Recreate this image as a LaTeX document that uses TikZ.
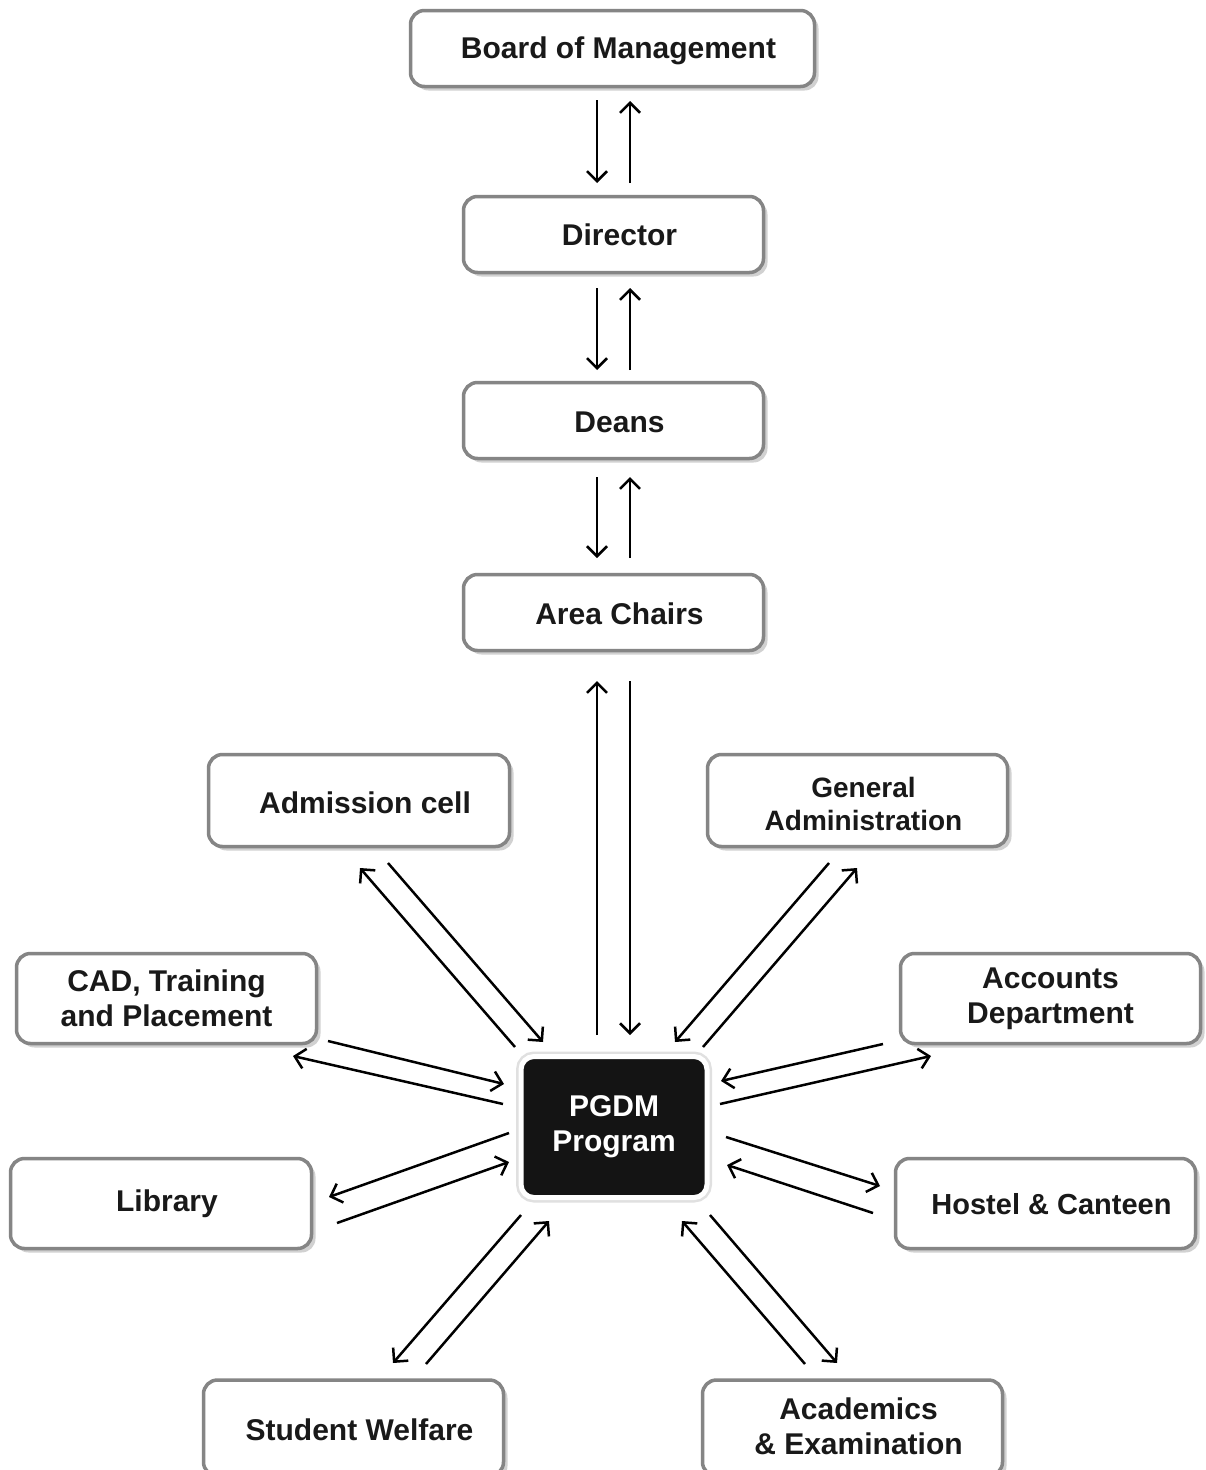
\documentclass[tikz,border=0pt]{standalone}
\usepackage{fontspec}
\setmainfont{Liberation Sans}
\usetikzlibrary{arrows.meta,shadows}
\newcommand{\stx}[2][4pt]{\hspace*{12pt}\raisebox{-#1}[\height][\depth]{\begin{tabular}{@{}c@{}}#2\end{tabular}}}
\begin{document}
\begin{tikzpicture}[x=1pt,y=-1pt,
  box/.style={draw=black!48, line width=3.5pt, fill=white, rounded corners=14pt,
    align=center, font=\fontsize{30}{35}\selectfont\bfseries, text=black!90,
    inner sep=0pt,
    drop shadow={shadow xshift=4pt, shadow yshift=-4pt, fill=black, opacity=0.18}},
  core/.style={fill=black!92, draw=white, line width=5pt, rounded corners=13pt,
    align=center, font=\fontsize{30}{35}\selectfont\bfseries, text=white, inner sep=0pt,
    preaction={draw=black!12, line width=10pt}},
  arr/.style={line width=2.5pt, -{Straight Barb[length=10pt,width=20pt,line width=2.5pt]}}]
\useasboundingbox (0,0) rectangle (1206,1470);
\fill[white] (0,0) rectangle (1206,1470);

% boxes
\node[box, minimum width=404pt, minimum height=76pt] (board) at (612.5,48.5) {\stx[3pt]{Board of Management}};
\node[box, minimum width=300pt, minimum height=76pt] (director) at (613.5,234.5) {\stx[4pt]{Director}};
\node[box, minimum width=300pt, minimum height=76pt] (deans) at (613.5,420.5) {\stx[5pt]{Deans}};
\node[box, minimum width=300pt, minimum height=76pt] (area) at (613.5,612.5) {\stx[5pt]{Area Chairs}};
\node[box, minimum width=301pt, minimum height=92pt] (adm) at (359,800.5) {\stx[6pt]{Admission cell}};
\node[box, minimum width=300pt, minimum height=92pt, font=\fontsize{28}{33}\selectfont\bfseries] (ga) at (857.5,800.5) {\stx[7pt]{General\\Administration}};
\node[box, minimum width=300pt, minimum height=90pt] (cad) at (166.5,998.5) {CAD, Training\\and Placement};
\node[box, minimum width=300pt, minimum height=90pt] (acc) at (1050.5,998.5) {Accounts\\Department};
\node[box, minimum width=301pt, minimum height=90pt] (lib) at (161,1203.5) {\stx[1pt]{Library}};
\node[box, minimum width=300pt, minimum height=90pt, font=\fontsize{29}{34}\selectfont\bfseries] (hostel) at (1045.5,1203.5) {\stx[4pt]{Hostel \& Canteen}};
\node[box, minimum width=300pt, minimum height=96pt] (sw) at (353.5,1428) {\stx[5pt]{Student Welfare}};
\node[box, minimum width=300pt, minimum height=96pt] (acad) at (852.5,1428) {\stx[2pt]{Academics\\\& Examination}};
\node[core, minimum width=186pt, minimum height=141pt] (pgdm) at (614,1127) {PGDM\\Program};

% connector end points
\coordinate (b1) at (597,100);  \coordinate (b2) at (597,183);
\coordinate (b3) at (630,183);  \coordinate (b4) at (630,101);
\coordinate (d1) at (597,288);  \coordinate (d2) at (597,370);
\coordinate (d3) at (630,370);  \coordinate (d4) at (630,288);
\coordinate (e1) at (597,477);  \coordinate (e2) at (597,558);
\coordinate (e3) at (630,558);  \coordinate (e4) at (630,477);
\coordinate (a1) at (597,1035); \coordinate (a2) at (597,681);
\coordinate (a3) at (630,681);  \coordinate (a4) at (630,1035);
\coordinate (m1) at (515,1047); \coordinate (m2) at (360,868);
\coordinate (m3) at (388,863);  \coordinate (m4) at (543,1042);
\coordinate (g1) at (829,863);  \coordinate (g2) at (675,1042);
\coordinate (g3) at (703,1047); \coordinate (g4) at (857,868);
\coordinate (c1) at (328,1041); \coordinate (c2) at (504,1084);
\coordinate (c3) at (503,1104); \coordinate (c4) at (293,1056);
\coordinate (k1) at (883,1044); \coordinate (k2) at (721,1081);
\coordinate (k3) at (720,1104); \coordinate (k4) at (931,1056);
\coordinate (l1) at (509,1133); \coordinate (l2) at (329,1197);
\coordinate (l3) at (337,1223); \coordinate (l4) at (509,1162);
\coordinate (h1) at (726,1137); \coordinate (h2) at (880,1186);
\coordinate (h3) at (873,1213); \coordinate (h4) at (727,1165);
\coordinate (s1) at (521,1215); \coordinate (s2) at (393,1363);
\coordinate (s3) at (426,1364); \coordinate (s4) at (549,1221);
\coordinate (x1) at (805,1364); \coordinate (x2) at (682,1221);
\coordinate (x3) at (710,1215); \coordinate (x4) at (837,1363);

% connectors
\draw[arr] (b1) -- (b2); \draw[arr] (b3) -- (b4);
\draw[arr] (d1) -- (d2); \draw[arr] (d3) -- (d4);
\draw[arr] (e1) -- (e2); \draw[arr] (e3) -- (e4);
\draw[arr] (a1) -- (a2); \draw[arr] (a3) -- (a4);
\draw[arr] (m1) -- (m2); \draw[arr] (m3) -- (m4);
\draw[arr] (g1) -- (g2); \draw[arr] (g3) -- (g4);
\draw[arr] (c1) -- (c2); \draw[arr] (c3) -- (c4);
\draw[arr] (k1) -- (k2); \draw[arr] (k3) -- (k4);
\draw[arr] (l1) -- (l2); \draw[arr] (l3) -- (l4);
\draw[arr] (h1) -- (h2); \draw[arr] (h3) -- (h4);
\draw[arr] (s1) -- (s2); \draw[arr] (s3) -- (s4);
\draw[arr] (x1) -- (x2); \draw[arr] (x3) -- (x4);
\end{tikzpicture}
\end{document}
